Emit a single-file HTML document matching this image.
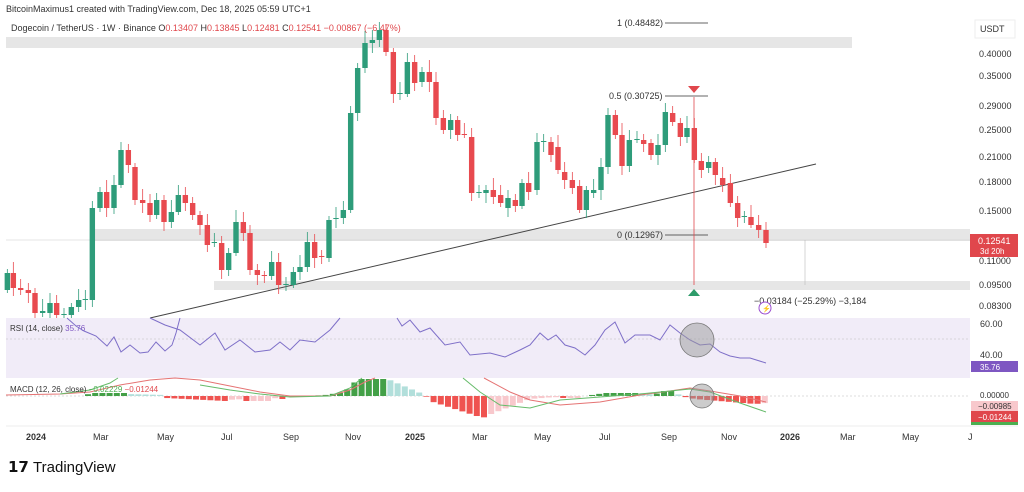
<!DOCTYPE html>
<html><head><meta charset="utf-8"><style>
body{margin:0;background:#fff;width:1024px;height:487px;overflow:hidden;font-family:"Liberation Sans",sans-serif}
svg text{font-family:"Liberation Sans",sans-serif}
</style></head><body>
<svg id="s" width="1024" height="487" viewBox="0 0 1024 487" xmlns="http://www.w3.org/2000/svg">
<rect width="1024" height="487" fill="#fff"/>
<text x="6" y="12" font-size="9" fill="#333">BitcoinMaximus1 created with TradingView.com, Dec 18, 2025 05:59 UTC+1</text>
<rect x="6" y="37" width="846" height="11" fill="#e6e6e6"/>
<rect x="95" y="229" width="875" height="12" fill="#e6e6e6"/>
<line x1="6" y1="240" x2="970" y2="240" stroke="#ccc" stroke-width="0.6"/>
<rect x="214" y="281" width="756" height="9" fill="#e6e6e6"/>
<text x="11" y="31" font-size="9" fill="#333">Dogecoin / TetherUS · 1W · Binance <tspan fill="#333">O</tspan><tspan fill="#e0474c">0.13407</tspan> <tspan fill="#333">H</tspan><tspan fill="#e0474c">0.13845</tspan> <tspan fill="#333">L</tspan><tspan fill="#e0474c">0.12481</tspan> <tspan fill="#333">C</tspan><tspan fill="#e0474c">0.12541 −0.00867 (−6.47%)</tspan></text>
<text x="617" y="26" font-size="9" fill="#333">1 (0.48482)</text><line x1="665" y1="23" x2="708" y2="23" stroke="#333" stroke-width="0.8"/>
<text x="609" y="99" font-size="9" fill="#333">0.5 (0.30725)</text><line x1="665" y1="96" x2="708" y2="96" stroke="#333" stroke-width="0.8"/>
<text x="617" y="238" font-size="9" fill="#333">0 (0.12967)</text><line x1="665" y1="235" x2="708" y2="235" stroke="#333" stroke-width="0.8"/>
<line x1="150" y1="318" x2="816" y2="164" stroke="#444" stroke-width="1"/>
<line x1="694" y1="97" x2="694" y2="285" stroke="#e0474c" stroke-width="0.8"/>
<polygon points="688,86 700,86 694,93" fill="#e0474c"/>
<polygon points="688,296 700,296 694,289" fill="#2e9c6a"/>
<line x1="805" y1="240" x2="805" y2="285" stroke="#bbb" stroke-width="0.6"/>
<g id="c"></g>
<text x="754" y="304" font-size="9" fill="#333">−0.03184 (−25.29%) −3,184</text>
<circle cx="765" cy="308" r="6" fill="#fff" stroke="#9c4fd0" stroke-width="1"/><text x="762" y="311" font-size="7" fill="#9c4fd0">⚡</text>
<rect x="975" y="20" width="40" height="18" fill="#fff" stroke="#eee"/><text x="980" y="32" font-size="9" fill="#333">USDT</text>
<g font-size="9" fill="#333">
<text x="979" y="57">0.40000</text><text x="979" y="79">0.35000</text><text x="979" y="109">0.29000</text><text x="979" y="133">0.25000</text><text x="979" y="160">0.21000</text><text x="979" y="185">0.18000</text><text x="979" y="214">0.15000</text><text x="979" y="264">0.11000</text><text x="979" y="288">0.09500</text><text x="979" y="309">0.08300</text>
</g>
<rect x="970" y="234" width="48" height="23" fill="#e0474c"/>
<text x="978" y="244" font-size="9" fill="#fff">0.12541</text><text x="980" y="254" font-size="8" fill="#fff">3d 20h</text>
<rect x="6" y="318" width="964" height="60" fill="#f1ecf8"/>
<line x1="6" y1="339" x2="970" y2="339" stroke="#bbb" stroke-width="0.6" stroke-dasharray="2,2"/>
<text x="10" y="331" font-size="8" fill="#333">RSI (14, close) <tspan fill="#7e57c2">35.76</tspan></text>
<polyline fill="none" stroke="#7e6fc8" stroke-width="1" points="67,318 76,326 84,331 96,336 107,346 114,337 121,352 130,345 140,353 148,352 156,342 165,351 172,345 176,333 180,318"/>
<polyline fill="none" stroke="#7e6fc8" stroke-width="1" points="150,318 165,325 180,330 200,345 215,333 225,350 240,340 255,352 270,350 280,342 290,350 300,340 315,342 330,330 340,318"/>
<polyline fill="none" stroke="#7e6fc8" stroke-width="1" points="397,318 402,326 410,320 420,332 430,328 445,345 460,342 470,355 490,353 505,357 520,350 530,345 540,333 548,340 556,335 565,345 575,348 585,355 595,345 605,330 615,322 625,343 635,335 650,335 660,340 670,325 680,333 690,340 700,345 710,344 720,352 730,356 740,358 750,358 766,363"/>
<circle cx="697" cy="340" r="17" fill="#999" fill-opacity="0.5" stroke="#777" stroke-width="0.8"/>
<text x="980" y="327" font-size="9" fill="#333">60.00</text><text x="980" y="358" font-size="9" fill="#333">40.00</text>
<rect x="971" y="361" width="47" height="11" fill="#7e57c2"/><text x="980" y="370" font-size="8" fill="#fff">35.76</text>
<line x1="6" y1="396" x2="970" y2="396" stroke="#bbb" stroke-width="0.6" stroke-dasharray="2,2"/>
<g id="m"></g>
<polyline fill="none" stroke="#e57373" stroke-width="1" points="6,395 60,394 90,392 120,385 150,380 175,378 200,380 230,386 260,392 290,396 330,396 350,390 365,382 375,378"/>
<polyline fill="none" stroke="#66bb6a" stroke-width="1" points="60,394 90,390 110,383 118,378"/>
<polyline fill="none" stroke="#66bb6a" stroke-width="1" points="200,385 230,390 260,394 290,397 330,396 350,388 362,378"/>
<polyline fill="none" stroke="#e57373" stroke-width="1" points="484,378 510,392 530,400 560,405 600,402 640,395 670,391 690,388 710,391 740,396 766,402"/>
<polyline fill="none" stroke="#66bb6a" stroke-width="1" points="463,378 480,392 500,405 530,408 560,400 600,397 640,394 670,391 690,389 710,392 740,403 766,412"/>
<circle cx="702" cy="396" r="12" fill="#999" fill-opacity="0.5" stroke="#777" stroke-width="0.8"/>
<text x="10" y="392" font-size="8" fill="#333">MACD (12, 26, close) <tspan fill="#4caf50">−0.02229</tspan> <tspan fill="#e0474c">−0.01244</tspan></text>
<text x="980" y="398" font-size="8" fill="#333">0.00000</text>
<rect x="971" y="401" width="47" height="10" fill="#f8c8cc"/><text x="978" y="409" font-size="8" fill="#333">−0.00985</text>
<rect x="971" y="411" width="47" height="11" fill="#e0474c"/><text x="978" y="420" font-size="8" fill="#fff">−0.01244</text>
<rect x="971" y="422" width="47" height="3" fill="#4caf50"/>
<line x1="6" y1="426" x2="1018" y2="426" stroke="#eee"/>
<g font-size="9" fill="#333">
<text x="26" y="440" font-weight="bold">2024</text><text x="93" y="440">Mar</text><text x="157" y="440">May</text><text x="221" y="440">Jul</text><text x="283" y="440">Sep</text><text x="345" y="440">Nov</text><text x="405" y="440" font-weight="bold">2025</text><text x="472" y="440">Mar</text><text x="534" y="440">May</text><text x="599" y="440">Jul</text><text x="661" y="440">Sep</text><text x="721" y="440">Nov</text><text x="780" y="440" font-weight="bold">2026</text><text x="840" y="440">Mar</text><text x="902" y="440">May</text><text x="968" y="440">J</text>
</g>
<text x="8" y="472" font-size="15" font-weight="bold" fill="#111">𝟭𝟳 <tspan font-weight="normal">TradingView</tspan></text>
</svg>
<script>
(function(){
var G='#2e9c7a',R='#e84a4f';
var d=[[22,'g',273,290],[40,'r',273,288],[62,'r',288,290],[85,'r',290,293],[105,'r',293,313],[128,'g',311,313],[150,'g',303,313],[170,'r',303,315],[192,'g',314,315],[214,'g',307,315],[236,'g',300,307],[256,'g',299,300],[277,'g',208,300],[300,'g',192,208],[320,'r',192,208],[342,'g',185,208],[363,'g',150,185],[385,'r',150,165],[405,'r',167,200],[428,'r',200,203],[450,'r',203,215],[470,'g',200,215],[492,'r',200,222],[514,'g',212,222],[535,'g',195,212],[556,'r',195,203],[578,'r',203,215],[600,'r',215,225],[622,'r',225,245],[643,'g',242,243],[665,'r',243,270],[686,'g',253,270],[708,'g',222,253],[730,'r',222,233],[750,'r',233,270],[772,'r',270,275],[793,'r',275,276],[815,'g',262,276],[836,'r',262,285],[858,'g',284,285],[880,'g',272,285],[900,'g',267,272],[922,'g',242,267],[944,'r',242,258],[965,'r',256,257],[987,'g',220,258],[1008,'g',218,219],[1030,'g',210,218],[1052,'g',113,210],[1073,'g',68,113],[1095,'g',43,68],[1117,'g',40,43],[1138,'g',30,40],[1158,'r',30,52],[1180,'r',52,94],[1200,'g',93,94],[1222,'g',62,94],[1244,'r',62,83],[1266,'g',72,82],[1288,'r',72,82],[1308,'r',82,118],[1330,'r',118,130],[1352,'g',120,130],[1373,'r',120,135],[1393,'r',134,135],[1415,'r',137,193],[1437,'g',192,193],[1458,'g',190,193],[1480,'r',190,197],[1502,'r',195,203],[1524,'g',198,208]];
var d2=[[10,'r',200,206],[30,'g',183,206],[50,'r',183,192],[75,'g',142,190],[95,'g',141,142],[117,'r',142,155],[138,'r',147,170],[158,'r',172,180],[181,'r',180,188],[203,'r',186,210],[223,'g',190,210],[245,'g',190,193],[267,'g',167,190],[288,'g',115,167],[310,'r',115,135],[330,'r',135,166],[352,'g',140,166],[375,'g',139,140],[395,'r',140,144],[417,'r',143,155],[438,'g',145,155],[460,'g',112,145],[482,'r',113,122],[505,'r',123,137],[525,'g',128,137],[547,'r',128,160],[568,'r',161,170],[590,'g',162,168],[610,'r',162,175],[632,'r',178,185],[655,'r',183,203],[677,'r',203,218],[697,'g',216,217],[717,'r',217,225],[740,'r',225,230],[762,'r',230,243]];
var all=d.map(a=>[a[0]/3,a[1],a[2],a[3]]).concat(d2.map(a=>[a[0]/3+512,a[1],a[2],a[3]]));
var h='';
all.forEach(function(a,i){var x=a[0],c=a[1]=='g'?G:R,t=a[2],b=Math.max(a[3],t+1);
var w1=t-4-((i*7)%9),w2=b+3+((i*5)%8);if(w1<22)w1=22;
h+='<line x1="'+x+'" y1="'+w1+'" x2="'+x+'" y2="'+w2+'" stroke="'+c+'" stroke-width="0.8"/>';
h+='<rect x="'+(x-2.7)+'" y="'+t+'" width="5.4" height="'+(b-t)+'" fill="'+c+'"/>';});
document.getElementById('c').innerHTML=h;
var cp=[[85,0],[90,3],[125,3],[126,2],[165,1],[166,-2],[225,-5],[226,-4],[245,-3],[246,-5],[268,-5],[269,-2],[275,-2],[276,-3],[285,-3],[286,-1],[325,1],[345,4],[350,10],[360,18],[385,18],[425,1],[430,-5],[483,-22],[486,-20],[530,-3],[555,-1],[560,-2],[580,-2],[585,0],[605,3],[640,3],[655,1],[660,5],[675,5],[680,0],[695,-3],[755,-8],[766,-7]];
function f(x){for(var i=0;i<cp.length-1;i++){if(x>=cp[i][0]&&x<=cp[i+1][0]){var t=(x-cp[i][0])/(cp[i+1][0]-cp[i][0]||1);return cp[i][1]+t*(cp[i+1][1]-cp[i][1]);}}return 0;}
var m='',prev=0;
for(var x=88;x<=766;x+=7.2){var v=f(x);var up=v>=prev;var col=v>=0?(up?'#43a047':'#b2dfdb'):(up?'#f8c8cc':'#ef5350');
if(Math.abs(v)<0.6){prev=v;continue;}
if(v>=0){var tp=Math.max(396-v,379);m+='<rect x="'+(x-3)+'" y="'+tp+'" width="6" height="'+(396-tp)+'" fill="'+col+'"/>';}
else m+='<rect x="'+(x-3)+'" y="396" width="6" height="'+(-v)+'" fill="'+col+'"/>';prev=v;}
document.getElementById('m').innerHTML=m;
})();
</script>
</body></html>
